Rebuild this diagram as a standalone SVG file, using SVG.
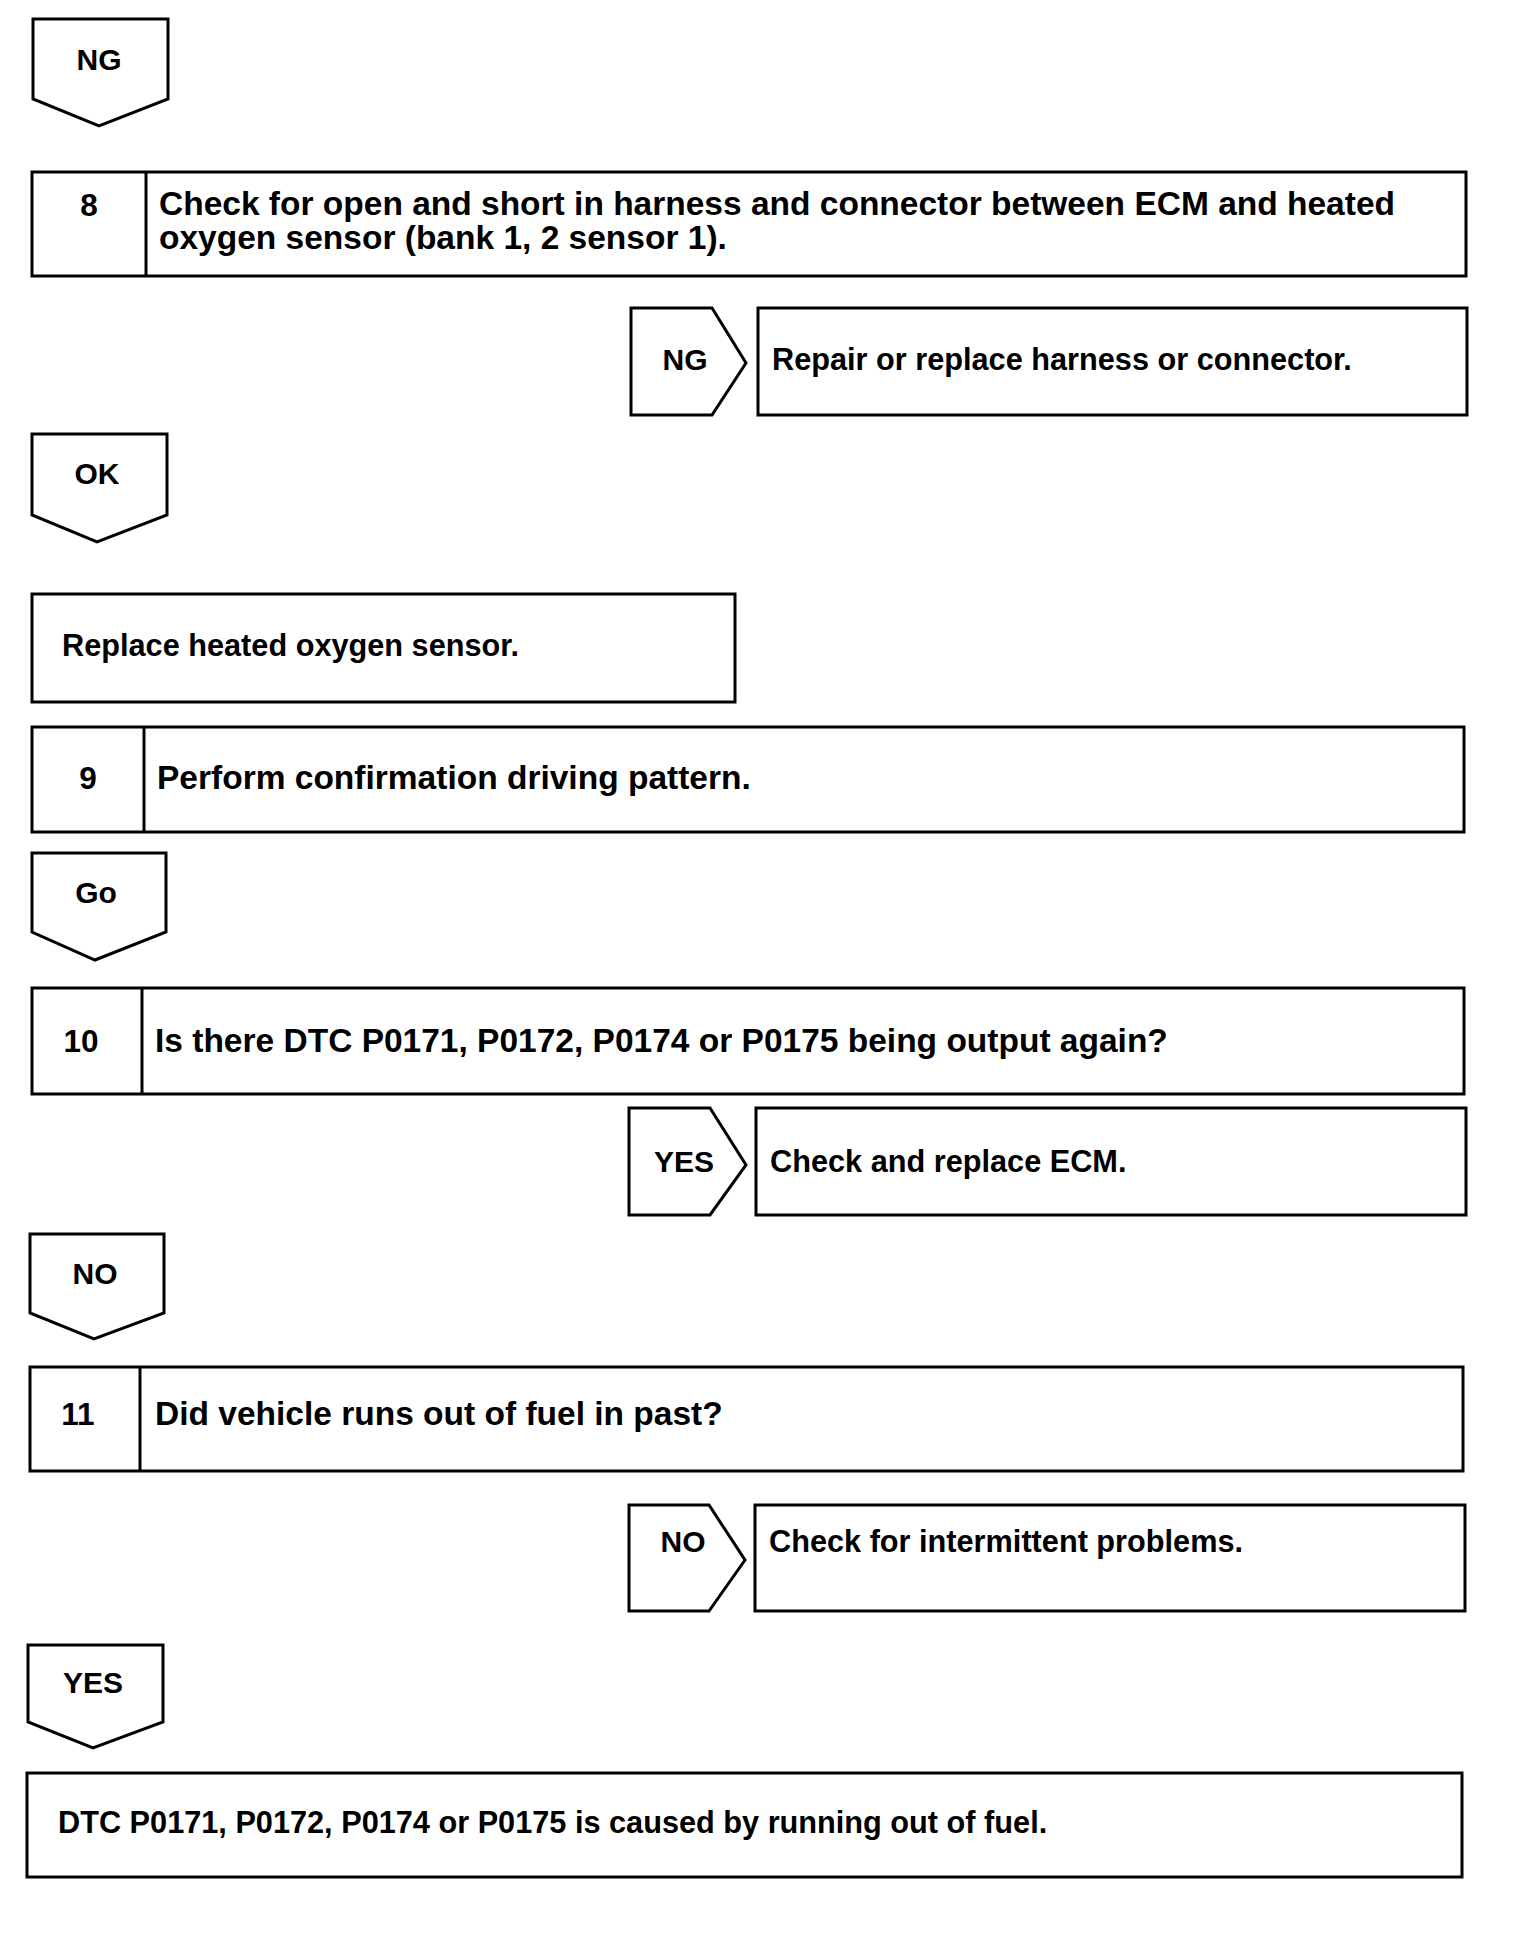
<svg xmlns="http://www.w3.org/2000/svg" width="1536" height="1946" viewBox="0 0 1536 1946">
<style>
.b{fill:#fff;stroke:#000;stroke-width:3}
.l{stroke:#000;stroke-width:3}
text{font-family:"Liberation Sans",Arial,sans-serif;font-weight:bold;fill:#000}
.s{font-size:33.5px}
.r{font-size:30.7px}
.n{font-size:30px;text-anchor:middle}
.m{font-size:31.5px;text-anchor:middle}
</style>
<rect width="1536" height="1946" fill="#fff"/>
<g id="connectors"/>
<g id="ng1">
<polygon class="b" points="33,19 168,19 168,99 99,126 33,99"/>
<text class="n" x="99" y="70">NG</text>
</g>
<g id="step8">
<rect class="b" x="32" y="172" width="1434" height="104"/>
<line class="l" x1="146" y1="172" x2="146" y2="276"/>
<text class="m" x="89" y="216">8</text>
<text class="s" x="159" y="215">Check for open and short in harness and connector between ECM and heated</text>
<text class="s" x="159" y="249">oxygen sensor (bank 1, 2 sensor 1).</text>
</g>
<g id="ng2">
<polygon class="b" points="631,308 712,308 746,363 712,415 631,415"/>
<text class="n" x="685" y="370">NG</text>
</g>
<g id="repair">
<rect class="b" x="758" y="308" width="709" height="107"/>
<text class="r" x="772" y="370">Repair or replace harness or connector.</text>
</g>
<g id="ok">
<polygon class="b" points="32,434 167,434 167,515 97,542 32,515"/>
<text class="n" x="97" y="484">OK</text>
</g>
<g id="replace">
<rect class="b" x="32" y="594" width="703" height="108"/>
<text class="r" x="62" y="656">Replace heated oxygen sensor.</text>
</g>
<g id="step9">
<rect class="b" x="32" y="727" width="1432" height="105"/>
<line class="l" x1="144" y1="727" x2="144" y2="832"/>
<text class="m" x="88" y="789">9</text>
<text class="s" x="157" y="789">Perform confirmation driving pattern.</text>
</g>
<g id="go">
<polygon class="b" points="32,853 166,853 166,932 95,960 32,932"/>
<text class="n" x="96" y="903">Go</text>
</g>
<g id="step10">
<rect class="b" x="32" y="988" width="1432" height="106"/>
<line class="l" x1="142" y1="988" x2="142" y2="1094"/>
<text class="m" x="81" y="1052">10</text>
<text class="s" x="155" y="1052">Is there DTC P0171, P0172, P0174 or P0175 being output again?</text>
</g>
<g id="yes1">
<polygon class="b" points="629,1108 710,1108 746,1165 710,1215 629,1215"/>
<text class="n" x="684" y="1172">YES</text>
</g>
<g id="ecm">
<rect class="b" x="756" y="1108" width="710" height="107"/>
<text class="r" x="770" y="1172">Check and replace ECM.</text>
</g>
<g id="no1">
<polygon class="b" points="30,1234 164,1234 164,1313 94,1339 30,1313"/>
<text class="n" x="95" y="1284">NO</text>
</g>
<g id="step11">
<rect class="b" x="30" y="1367" width="1433" height="104"/>
<line class="l" x1="140" y1="1367" x2="140" y2="1471"/>
<text class="m" x="78" y="1425">11</text>
<text class="s" x="155" y="1425">Did vehicle runs out of fuel in past?</text>
</g>
<g id="no2">
<polygon class="b" points="629,1505 709,1505 745,1560 709,1611 629,1611"/>
<text class="n" x="683" y="1552">NO</text>
</g>
<g id="intermittent">
<rect class="b" x="755" y="1505" width="710" height="106"/>
<text class="r" x="769" y="1552">Check for intermittent problems.</text>
</g>
<g id="yes2">
<polygon class="b" points="28,1645 163,1645 163,1722 93,1748 28,1722"/>
<text class="n" x="93" y="1693">YES</text>
</g>
<g id="final">
<rect class="b" x="27" y="1773" width="1435" height="104"/>
<text class="r" x="58" y="1833">DTC P0171, P0172, P0174 or P0175 is caused by running out of fuel.</text>
</g>
</svg>
